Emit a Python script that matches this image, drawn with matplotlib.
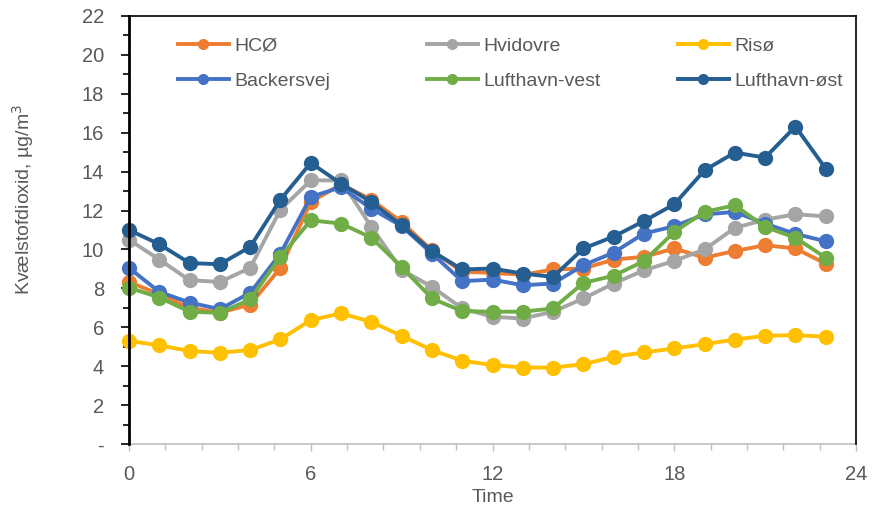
import matplotlib
matplotlib.use("Agg")
import matplotlib.pyplot as plt
from matplotlib.ticker import MultipleLocator, FixedLocator
from matplotlib.lines import Line2D

plt.rcParams['font.family'] = ['Liberation Sans', 'DejaVu Sans']

hours = list(range(24))

hco = [8.33, 7.7, 7.0, 6.75, 7.17, 9.05, 12.44, 13.35, 12.56, 11.41, 9.95, 8.85,
       8.8, 8.7, 8.97, 9.02, 9.48, 9.62, 10.05, 9.58, 9.92, 10.22, 10.05, 9.27]
hvidovre = [10.5, 9.48, 8.42, 8.33, 9.05, 12.05, 13.55, 13.55, 11.16, 8.95, 8.08, 6.97,
            6.54, 6.45, 6.8, 7.48, 8.25, 8.93, 9.41, 10.0, 11.11, 11.53, 11.81, 11.7]
riso = [5.3, 5.07, 4.78, 4.69, 4.83, 5.38, 6.37, 6.71, 6.28, 5.56, 4.83, 4.28,
        4.06, 3.93, 3.93, 4.1, 4.48, 4.71, 4.91, 5.13, 5.37, 5.56, 5.6, 5.51]
backersvej = [9.05, 7.82, 7.27, 6.93, 7.77, 9.79, 12.7, 13.2, 12.1, 11.2, 9.79, 8.37,
              8.45, 8.16, 8.25, 9.19, 9.84, 10.82, 11.19, 11.8, 11.93, 11.33, 10.8, 10.42]
luft_vest = [8.04, 7.53, 6.8, 6.74, 7.43, 9.62, 11.5, 11.33, 10.61, 9.1, 7.48, 6.83,
             6.8, 6.8, 6.97, 8.28, 8.65, 9.4, 10.9, 11.93, 12.27, 11.16, 10.6, 9.58]
luft_ost = [11.0, 10.27, 9.3, 9.24, 10.13, 12.56, 14.45, 13.38, 12.44, 11.24, 9.91, 8.97,
            9.02, 8.76, 8.59, 10.05, 10.66, 11.46, 12.32, 14.07, 14.98, 14.72, 16.32, 14.15]

series = [
    ("HCØ", hco, "#ED7D31"),
    ("Hvidovre", hvidovre, "#A5A5A5"),
    ("Risø", riso, "#FFC000"),
    ("Backersvej", backersvej, "#4472C4"),
    ("Lufthavn-vest", luft_vest, "#70AD47"),
    ("Lufthavn-øst", luft_ost, "#255E91"),
]

yticks = list(range(0, 23, 2))
ytick_labels = ["-"] + [str(v) for v in yticks[1:]]
xticks = [0, 6, 12, 18, 24]

W, H = 876, 508
fig = plt.figure(figsize=(W / 100, H / 100), dpi=100)
ax = fig.add_axes([129 / W, 1 - 444 / H, (856 - 129) / W, (444 - 16) / H])

for name, vals, col in series:
    ax.plot(hours, vals, color=col, lw=2.8, marker='o', ms=11,
            markeredgewidth=0, solid_joinstyle='round', label=name, clip_on=False)

ax.set_xlim(0, 24)
ax.set_ylim(0, 22)
ax.set_yticks(yticks)
ax.set_yticklabels(ytick_labels)
ax.yaxis.set_minor_locator(MultipleLocator(1))
ax.set_xticks(xticks)
ax.xaxis.set_minor_locator(FixedLocator([i * 1.2 for i in range(21)]))

txtc = "#595959"
ax.tick_params(axis='y', which='major', length=6, width=1.2, color='black',
               labelsize=14.5, labelcolor=txtc, pad=12)
ax.tick_params(axis='y', which='minor', length=4, width=1.2, color='black')
ax.tick_params(axis='x', which='major', length=5, width=1, color='#BFBFBF',
               labelsize=14.5, labelcolor=txtc, pad=10)
ax.tick_params(axis='x', which='minor', length=4, width=1, color='#BFBFBF')

for s in ['left', 'top', 'right']:
    ax.spines[s].set_color('black')
    ax.spines[s].set_linewidth(1.2)
ax.spines['bottom'].set_color('#BFBFBF')
ax.spines['bottom'].set_linewidth(1.2)
ax.spines['left'].set_linewidth(2)
ax.spines['bottom'].set_zorder(0.5)

fig.text(23 / W, 1 - 199 / H, "Kvælstofdioxid, µg/m$^3$", rotation=90,
         ha='center', va='center', fontsize=14, color=txtc)
fig.text(493 / W, 1 - 497 / H, "Time", ha='center', va='center',
         fontsize=14, color=txtc)

col_x = [178, 427, 678]
for i, cx in enumerate(col_x):
    hs = [Line2D([], [], color=series[j][2], lw=2.8, marker='o', ms=8,
                 markeredgewidth=0) for j in (i, i + 3)]
    labs = [series[j][0] for j in (i, i + 3)]
    fig.legend(hs, labs, loc='upper left', bbox_to_anchor=(cx / W, 1 - 37 / H),
               frameon=False, fontsize=14, handlelength=2.6, handletextpad=0.3,
               borderpad=0, borderaxespad=0, labelspacing=0.9, labelcolor=txtc)

fig.savefig("out.png", dpi=100)
